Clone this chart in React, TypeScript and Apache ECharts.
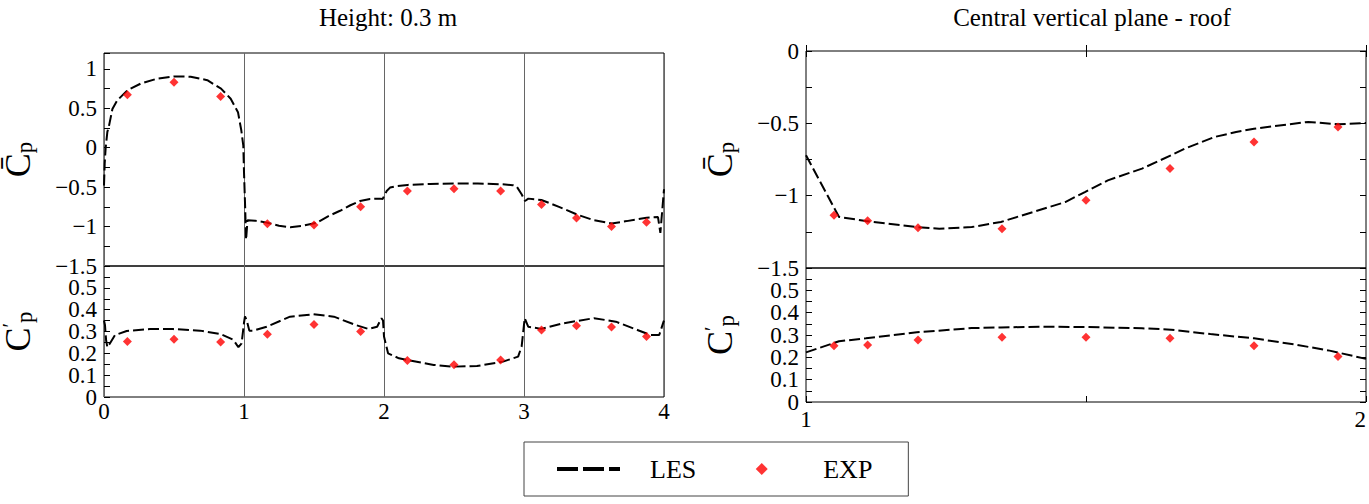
import React, { useEffect, useRef } from 'react';
import * as echarts from 'echarts';

const FONT = "'Liberation Serif', 'Times New Roman', 'DejaVu Serif', serif";

// Height: 0.3 m, LES mean pressure coefficient
const heightLesX = [
  0.0, 0.005, 0.012, 0.024, 0.035, 0.06, 0.095, 0.167, 0.262, 0.381, 0.502, 0.619, 0.738, 0.836,
  0.905, 0.957, 0.981, 0.995, 1.0, 1.008, 1.015, 1.025, 1.08, 1.162, 1.25, 1.33, 1.42, 1.519, 1.6,
  1.686, 1.76, 1.829, 1.9, 1.971, 1.99, 2.005, 2.019, 2.043, 2.08, 2.169, 2.33, 2.502, 2.67, 2.835,
  2.92, 2.948, 2.983, 3.007, 3.031, 3.124, 3.25, 3.376, 3.5, 3.626, 3.733, 3.876, 3.957, 3.974,
  3.986, 4.0,
];
const heightLesMean = [
  -0.48, -0.2, 0.0, 0.2, 0.27, 0.49, 0.6, 0.727, 0.812, 0.876, 0.903, 0.9, 0.855, 0.748, 0.62,
  0.45, 0.217, 0.026, -0.31, -0.74, -1.165, -0.92, -0.925, -0.95, -0.99, -1.008, -0.99, -0.952,
  -0.87, -0.8, -0.73, -0.676, -0.65, -0.646, -0.65, -0.6, -0.55, -0.506, -0.49, -0.472, -0.46,
  -0.455, -0.455, -0.463, -0.475, -0.493, -0.591, -0.676, -0.646, -0.663, -0.75, -0.846, -0.92,
  -0.961, -0.931, -0.889, -0.88, -1.08, -0.825, -0.527,
];

// Height: 0.3 m, LES rms pressure coefficient
const heightLesRmsX = [
  0.0, 0.007, 0.015, 0.024, 0.043, 0.079, 0.162, 0.329, 0.495, 0.686, 0.829, 0.924, 0.96, 0.983,
  1.0, 1.007, 1.019, 1.038, 1.067, 1.162, 1.329, 1.495, 1.642, 1.797, 1.888, 1.951, 1.982, 1.993,
  2.0, 2.029, 2.107, 2.355, 2.497, 2.664, 2.85, 2.958, 2.983, 3.005, 3.03, 3.123, 3.284, 3.5,
  3.656, 3.81, 3.903, 3.966, 3.997, 4.0,
];
const heightLesRms = [
  0.35, 0.33, 0.26, 0.228, 0.246, 0.284, 0.302, 0.311, 0.311, 0.304, 0.289, 0.262, 0.228, 0.246,
  0.34, 0.369, 0.353, 0.304, 0.304, 0.322, 0.368, 0.379, 0.368, 0.33, 0.312, 0.322, 0.361, 0.35,
  0.277, 0.2, 0.177, 0.147, 0.139, 0.142, 0.162, 0.185, 0.231, 0.361, 0.322, 0.312, 0.338, 0.361,
  0.345, 0.307, 0.284, 0.284, 0.345, 0.35,
];

// Height: 0.3 m, experiment
const heightExpX = [0.167, 0.5, 0.833, 1.167, 1.5, 1.833, 2.167, 2.5, 2.833, 3.125, 3.375, 3.625, 3.875];
const heightExpMean = [0.67, 0.83, 0.65, -0.965, -0.98, -0.75, -0.55, -0.52, -0.55, -0.72, -0.89, -1.0, -0.945];
const heightExpRms = [0.254, 0.265, 0.252, 0.287, 0.332, 0.3, 0.167, 0.148, 0.17, 0.307, 0.326, 0.321, 0.277];

// Central vertical plane - roof, LES
const roofLesX = [
  1.0, 1.059, 1.107, 1.198, 1.238, 1.296, 1.348, 1.463, 1.498, 1.539, 1.6, 1.652, 1.676, 1.73,
  1.768, 1.8, 1.897, 1.95, 2.0,
];
const roofLesMean = [
  -0.721, -1.147, -1.175, -1.217, -1.228, -1.217, -1.182, -1.044, -0.975, -0.894, -0.813, -0.721,
  -0.675, -0.594, -0.56, -0.537, -0.49, -0.507, -0.498,
];
const roofLesRmsX = [1.0, 1.059, 1.107, 1.198, 1.296, 1.348, 1.417, 1.498, 1.6, 1.652, 1.722, 1.8, 1.874, 1.935, 2.0];
const roofLesRms = [0.222, 0.272, 0.285, 0.312, 0.331, 0.334, 0.337, 0.336, 0.33, 0.324, 0.304, 0.285, 0.257, 0.23, 0.193];

// Central vertical plane - roof, experiment
const roofExpX = [1.05, 1.11, 1.2, 1.35, 1.5, 1.65, 1.8, 1.95];
const roofExpMean = [-1.136, -1.173, -1.221, -1.228, -1.032, -0.813, -0.629, -0.525];
const roofExpRms = [0.252, 0.255, 0.278, 0.29, 0.29, 0.285, 0.252, 0.204];

const zip = (xs: number[], ys: number[]) => xs.map((x, i) => [x, ys[i]]);
const minus = (v: number) => String(v).replace('-', '\u2212');

const labelStyle = { fontFamily: FONT, fontSize: 23, lineHeight: 18, color: '#000' };
const tickStyle = { color: '#000', width: 1 };

const nameRich = {
  c: { fontFamily: FONT, fontSize: 36, lineHeight: 36, verticalAlign: 'top', color: '#000' },
  s: { fontFamily: FONT, fontSize: 20, lineHeight: 20, verticalAlign: 'top', color: '#000' },
  p: { fontFamily: FONT, fontSize: 23, lineHeight: 23, padding: [18, 0, 0, 0], verticalAlign: 'bottom', color: '#000' },
};
const meanName = '{c|C\u0304}{p|p}';
const rmsName = '{c|C}{s|\u2032}{p|p}';

// diamond centred in a 63 x 12 box, so the legend icon keeps its shape
const diamondIcon = 'path://M0,6L0,6M25.5,6L31.5,0L37.5,6L31.5,12ZM63,6L63,6';

function yAxis(gridIndex: number, min: number, max: number, interval: number, name: string, showMin: boolean, showMax: boolean) {
  return {
    type: 'value', gridIndex, min, max, interval, position: 'left',
    name, nameLocation: 'middle', nameRotate: 90, nameGap: 68,
    nameTextStyle: { rich: nameRich },
    axisLine: { show: false },
    axisTick: { show: true, inside: true, length: 6, lineStyle: tickStyle },
    minorTick: { show: true, splitNumber: 2, length: 6, lineStyle: tickStyle },
    splitLine: { show: false },
    axisLabel: {
      ...labelStyle, margin: 7, showMinLabel: showMin, showMaxLabel: showMax,
      hideOverlap: false, formatter: minus,
    },
  };
}

// separate axis that only carries the "0" label of a lower panel,
// so the packed 0.1 label next to it is not dropped
function zeroLabel(gridIndex: number) {
  return {
    type: 'value', gridIndex, min: 0, max: 0.6, interval: 0.6, position: 'left',
    axisLine: { show: false }, axisTick: { show: false }, splitLine: { show: false },
    axisLabel: { ...labelStyle, margin: 7, showMinLabel: true, showMaxLabel: false, hideOverlap: false },
  };
}

function mirrorY(gridIndex: number, min: number, max: number, interval: number) {
  return {
    type: 'value', gridIndex, min, max, interval, position: 'right',
    axisLine: { show: false },
    axisTick: { show: true, inside: true, length: 6, lineStyle: tickStyle },
    minorTick: { show: true, splitNumber: 2, length: 6, lineStyle: tickStyle },
    splitLine: { show: false },
    axisLabel: { show: false },
  };
}

const lesStyle = { color: '#000', width: 2, type: [11, 4] };

function les(x: number, y: number, data: number[][]) {
  return {
    name: 'LES', type: 'line', xAxisIndex: x, yAxisIndex: y, data,
    symbol: 'none', showSymbol: false, lineStyle: lesStyle, itemStyle: { color: '#000' }, z: 3,
  };
}

function exp(x: number, y: number, data: number[][]) {
  return {
    name: 'EXP', type: 'scatter', xAxisIndex: x, yAxisIndex: y, data,
    symbol: 'diamond', symbolSize: 9, itemStyle: { color: '#ff0000' }, z: 4,
  };
}

const App: React.FC = () => {
  const chartRef = useRef<HTMLDivElement>(null);

  useEffect(() => {
    if (!chartRef.current) return;

    const chart = echarts.init(chartRef.current, undefined, { renderer: 'svg' });

    const border = {
      show: true, borderColor: '#000', borderWidth: 1, backgroundColor: 'transparent',
      containLabel: false, outerBoundsMode: 'none',
    };
    const titleStyle = { fontFamily: FONT, fontSize: 25, fontWeight: 'normal', color: '#000' };

    const options: any = {
      animation: false,
      backgroundColor: '#fff',
      textStyle: { fontFamily: FONT },
      title: [
        { text: 'Height: 0.3 m', left: 383, top: 0, textAlign: 'center', textStyle: titleStyle },
        { text: 'Central vertical plane - roof', left: 1087, top: 0, textAlign: 'center', textStyle: titleStyle },
      ],
      legend: {
        left: 524, top: 442,
        padding: [14, 36, 14, 31],
        borderColor: '#444', borderWidth: 1,
        itemWidth: 63, itemHeight: 12, itemGap: 34,
        textStyle: { fontFamily: FONT, fontSize: 26, color: '#000', padding: [0, 0, 0, 25] },
        data: [
          {
            name: 'LES',
            lineStyle: { color: '#000', width: 4, type: [21, 5] },
            itemStyle: { opacity: 0 },
          },
          { name: 'EXP', icon: diamondIcon, itemStyle: { color: '#ff0000' } },
        ],
      },
      grid: [
        { left: 104, top: 53, width: 560, height: 213, ...border },
        { left: 104, top: 266, width: 560, height: 131, ...border },
        { left: 806, top: 51, width: 560, height: 217, ...border },
        { left: 806, top: 268, width: 560, height: 134, ...border },
      ],
      xAxis: [
        {
          type: 'value', gridIndex: 0, min: 0, max: 4, interval: 1,
          axisLine: { show: false }, axisTick: { show: false }, axisLabel: { show: false },
          splitLine: { show: true, lineStyle: { color: '#666', width: 1 } },
        },
        {
          type: 'value', gridIndex: 1, min: 0, max: 4, interval: 1,
          axisLine: { show: false }, axisTick: { show: false },
          axisLabel: { ...labelStyle, margin: 5, showMinLabel: true, showMaxLabel: true, hideOverlap: false },
          splitLine: { show: true, lineStyle: { color: '#666', width: 1 } },
        },
        {
          type: 'value', gridIndex: 2, min: 1, max: 2, interval: 0.5,
          axisLine: { show: false },
          axisTick: { show: true, inside: true, length: 6, lineStyle: tickStyle },
          axisLabel: { show: false }, splitLine: { show: false },
        },
        {
          type: 'value', gridIndex: 3, min: 1, max: 2, interval: 0.5,
          axisLine: { show: false },
          axisTick: { show: true, inside: true, length: 6, lineStyle: tickStyle },
          axisLabel: {
            ...labelStyle, margin: 8, alignMaxLabel: 'right', showMinLabel: true,
            showMaxLabel: true, hideOverlap: false,
            formatter: (v: number) => (v === 1.5 ? '' : String(v)),
          },
          splitLine: { show: false },
        },
        {
          type: 'value', gridIndex: 2, min: 1, max: 2, interval: 0.5, position: 'top',
          axisLine: { show: false },
          axisTick: { show: true, inside: true, length: 6, lineStyle: tickStyle },
          axisLabel: { show: false }, splitLine: { show: false },
        },
      ],
      yAxis: [
        yAxis(0, -1.5, 1.2, 0.5, meanName, true, false),
        yAxis(1, 0, 0.6, 0.1, rmsName, false, false),
        yAxis(2, -1.5, 0, 0.5, meanName, true, true),
        yAxis(3, 0, 0.6, 0.1, rmsName, false, false),
        mirrorY(2, -1.5, 0, 0.5),
        mirrorY(3, 0, 0.6, 0.1),
        zeroLabel(1),
        zeroLabel(3),
      ],
      series: [
        les(0, 0, zip(heightLesX, heightLesMean)),
        exp(0, 0, zip(heightExpX, heightExpMean)),
        les(1, 1, zip(heightLesRmsX, heightLesRms)),
        exp(1, 1, zip(heightExpX, heightExpRms)),
        les(2, 2, zip(roofLesX, roofLesMean)),
        exp(2, 2, zip(roofExpX, roofExpMean)),
        les(3, 3, zip(roofLesRmsX, roofLesRms)),
        exp(3, 3, zip(roofExpX, roofExpRms)),
      ],
    };

    chart.setOption(options);

    return () => {
      chart.dispose();
    };
  }, []);

  return (
    <div
      ref={chartRef}
      style={{ position: 'fixed', left: 0, top: 0, width: 1369, height: 504 }}
    />
  );
};

export default App;
